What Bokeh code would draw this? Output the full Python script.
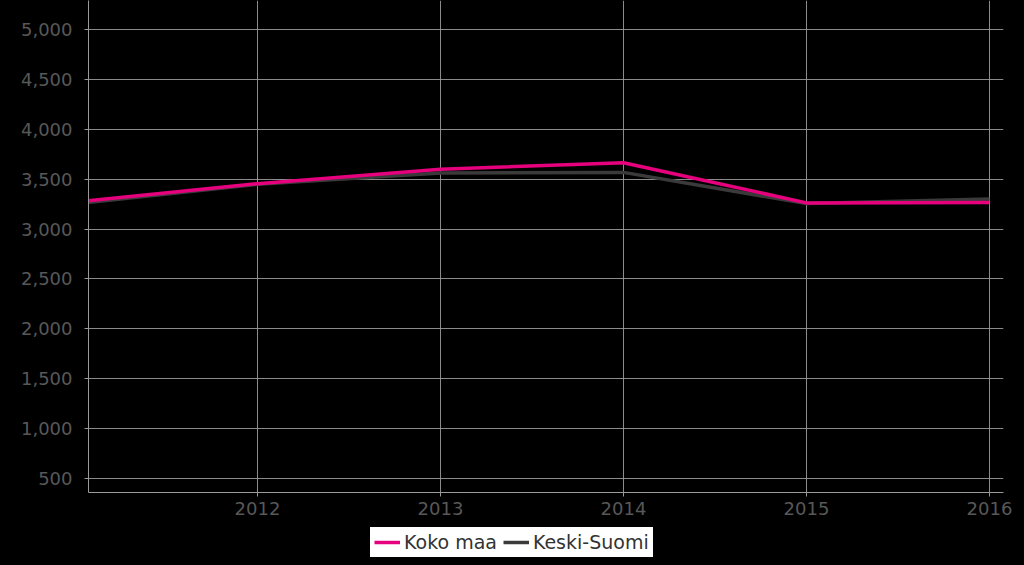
from bokeh.plotting import figure
from bokeh.layouts import column
from bokeh.models import Range1d, FixedTicker, NumeralTickFormatter, Legend, LegendItem
from bokeh.embed import file_html
from bokeh.resources import INLINE

years = [2011, 2012, 2013, 2014, 2015, 2016]
koko_maa = [3269, 3455, 3600, 3665, 3262, 3265]
keski_suomi = [3253, 3448, 3562, 3568, 3255, 3302]
x_ticks = [2012, 2013, 2014, 2015, 2016]
y_ticks = [500, 1000, 1500, 2000, 2500, 3000, 3500, 4000, 4500, 5000]
series_names = ["Koko maa", "Keski-Suomi"]
series_colors = ["#e6007e", "#3a3a3a"]

p = figure(width=1016, height=524, output_backend="svg", toolbar_location=None,
           x_range=Range1d(2011.0765, 2016.0765), y_range=Range1d(359.7, 5290.6),
           min_border_left=88, min_border_right=13, min_border_top=0, min_border_bottom=32,
           background_fill_color="#000000", border_fill_color="#000000")
p.outline_line_color = None

grid_col = "#9a9a9a"
p.xgrid.ticker = FixedTicker(ticks=x_ticks)
p.ygrid.ticker = FixedTicker(ticks=y_ticks)
p.xgrid.grid_line_color = grid_col
p.ygrid.grid_line_color = grid_col
p.xgrid.grid_line_alpha = 0.9
p.ygrid.grid_line_alpha = 0.9

for ax in (p.xaxis[0], p.yaxis[0]):
    ax.axis_line_color = grid_col
    ax.major_tick_line_color = grid_col
    ax.minor_tick_line_color = None
    ax.major_tick_in = 0
    ax.major_tick_out = 4
    ax.major_label_text_color = "#585858"
    ax.major_label_text_font = "DejaVu Sans"
    ax.major_label_text_font_size = "18px"

p.xaxis.ticker = FixedTicker(ticks=x_ticks)
p.xaxis.major_label_overrides = {t: str(t) for t in x_ticks}
p.xaxis.major_label_standoff = 5
p.yaxis.ticker = FixedTicker(ticks=y_ticks)
p.yaxis.formatter = NumeralTickFormatter(format="0,0")
p.yaxis.major_label_standoff = 12

p.line(years, keski_suomi, line_color=series_colors[1], line_width=3.5)
p.line(years, koko_maa, line_color=series_colors[0], line_width=3.5)

# legend strip below the chart (its dummy lines lie outside the visible range)
lg = figure(width=1016, height=33, output_backend="svg", toolbar_location=None,
            x_axis_location=None, y_axis_location=None,
            x_range=Range1d(10, 11), y_range=Range1d(10, 11),
            min_border_left=0, min_border_right=0, min_border_top=0, min_border_bottom=0,
            background_fill_color="#000000", border_fill_color="#000000")
lg.outline_line_color = None
lg.xgrid.visible = False
lg.ygrid.visible = False
dummies = [lg.line(x=[0, 1], y=[0, 0], line_color=c, line_width=3.5) for c in series_colors]
legend = Legend(items=[LegendItem(label=n, renderers=[r]) for n, r in zip(series_names, dummies)],
                orientation="horizontal", location=(282, 0),
                background_fill_color="#ffffff", background_fill_alpha=1,
                border_line_alpha=0,
                label_text_font="DejaVu Sans", label_text_font_size="19px",
                label_text_color="#333333", glyph_width=26, glyph_height=22,
                label_standoff=4, spacing=6, padding=4, margin=0)
lg.add_layout(legend, "center")

layout = column(p, lg, spacing=0)
html = file_html(layout, INLINE).replace("<body>", '<body style="background-color:#000000;">')
open("out.html", "w").write(html)
